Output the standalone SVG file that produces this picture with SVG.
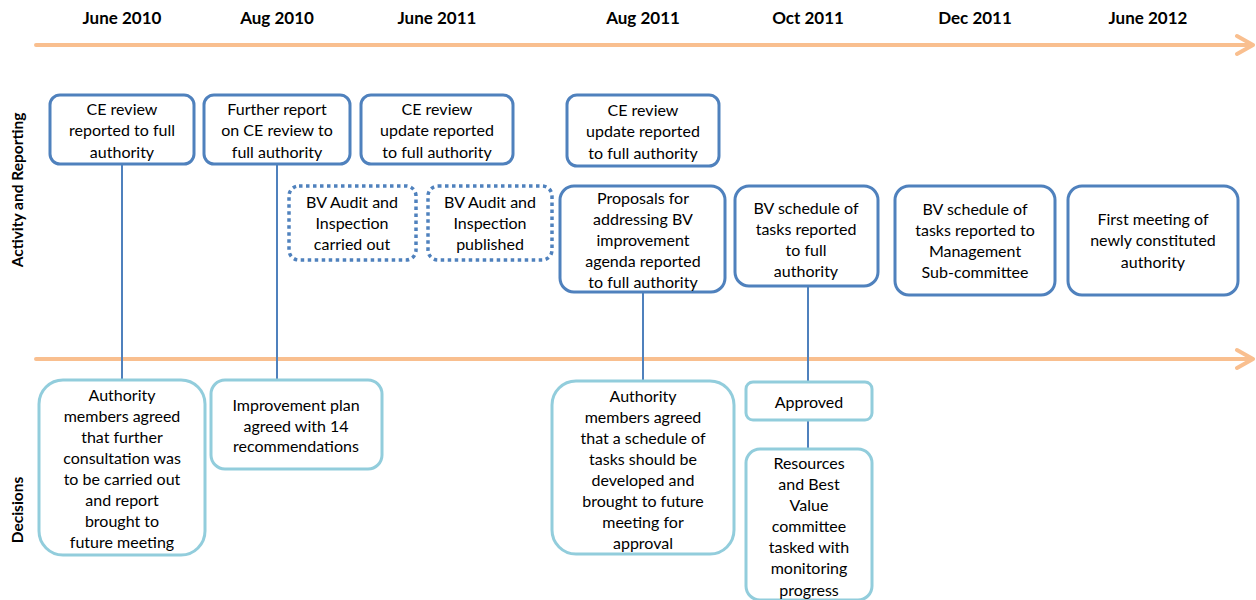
<svg xmlns="http://www.w3.org/2000/svg" width="1256" height="600" viewBox="0 0 1256 600">
<defs>
<style>
.axis{stroke:#F9BF8F;stroke-width:4;fill:none;stroke-linecap:round;stroke-linejoin:round}
.hd{font-family:Lato,"Liberation Sans",sans-serif;font-weight:bold;font-size:17px;fill:#000;text-anchor:middle}
.side{font-family:Lato,"Liberation Sans",sans-serif;font-weight:bold;font-size:15.5px;fill:#000;text-anchor:middle}
.t{font-family:Lato,"Liberation Sans",sans-serif;font-size:16px;fill:#000;text-anchor:middle}
.a{fill:#fff;stroke:#4F81BD;stroke-width:3}
.d{fill:#fff;stroke:#4F81BD;stroke-width:3.5;stroke-dasharray:3.5 3.5}
.b{fill:#fff;stroke:#92CDDC;stroke-width:3}
.c{stroke:#4F81BD;stroke-width:2;fill:none}
</style>
</defs>
<rect width="1256" height="600" fill="#fff"/>
<g id="timeline">
<path class="axis" d="M36 45H1253M1237 36L1253 45L1237 54"/>
<path class="axis" d="M36 359H1253M1237 350L1253 359L1237 368"/>
</g>
<g id="headers">
<text class="hd" x="122" y="24">June 2010</text>
<text class="hd" x="277" y="24">Aug 2010</text>
<text class="hd" x="437" y="24">June 2011</text>
<text class="hd" x="643" y="24">Aug 2011</text>
<text class="hd" x="808" y="24">Oct 2011</text>
<text class="hd" x="975" y="24">Dec 2011</text>
<text class="hd" x="1148" y="24">June 2012</text>
</g>
<g id="lanes">
<text class="side" transform="translate(23,190) rotate(-90)">Activity and Reporting</text>
<text class="side" transform="translate(23,510) rotate(-90)">Decisions</text>
</g>
<g id="connectors">
<line class="c" x1="122" y1="164" x2="122" y2="380"/>
<line class="c" x1="277" y1="164" x2="277" y2="380"/>
<line class="c" x1="643" y1="292" x2="643" y2="381"/>
<line class="c" x1="808" y1="286" x2="808" y2="382"/>
<line class="c" x1="808" y1="420" x2="808" y2="449"/>
</g>
<g id="n1"><rect class="a" x="50" y="95" width="144" height="69" rx="10"/>
<text class="t" x="122" y="115">CE review</text><text class="t" x="122" y="136">reported to full</text><text class="t" x="122" y="158">authority</text></g>
<g id="n2"><rect class="a" x="204" y="95" width="146" height="69" rx="10"/>
<text class="t" x="277" y="115">Further report</text><text class="t" x="277" y="136">on CE review to</text><text class="t" x="277" y="158">full authority</text></g>
<g id="n3"><rect class="a" x="361" y="95" width="152" height="69" rx="10"/>
<text class="t" x="437" y="115">CE review</text><text class="t" x="437" y="136">update reported</text><text class="t" x="437" y="158">to full authority</text></g>
<g id="n4"><rect class="a" x="567" y="95" width="152" height="71" rx="10"/>
<text class="t" x="643" y="116">CE review</text><text class="t" x="643" y="137">update reported</text><text class="t" x="643" y="159">to full authority</text></g>
<g id="n5"><rect class="d" x="289" y="186" width="127" height="74" rx="10"/>
<text class="t" x="352" y="208">BV Audit and</text><text class="t" x="352" y="229">Inspection</text><text class="t" x="352" y="250">carried out</text></g>
<g id="n6"><rect class="d" x="428" y="186" width="124" height="74" rx="10"/>
<text class="t" x="490" y="208">BV Audit and</text><text class="t" x="490" y="229">Inspection</text><text class="t" x="490" y="250">published</text></g>
<g id="n7"><rect class="a" x="560" y="186" width="165" height="106" rx="14"/>
<text class="t" x="643" y="204">Proposals for</text><text class="t" x="643" y="225">addressing BV</text><text class="t" x="643" y="246">improvement</text><text class="t" x="643" y="267">agenda reported</text><text class="t" x="643" y="288">to full authority</text></g>
<g id="n8"><rect class="a" x="735" y="186" width="143" height="100" rx="14"/>
<text class="t" x="806" y="214">BV schedule of</text><text class="t" x="806" y="235">tasks reported</text><text class="t" x="806" y="256">to full</text><text class="t" x="806" y="277">authority</text></g>
<g id="n9"><rect class="a" x="895" y="186" width="160" height="109" rx="14"/>
<text class="t" x="975" y="215">BV schedule of</text><text class="t" x="975" y="236">tasks reported to</text><text class="t" x="975" y="257">Management</text><text class="t" x="975" y="278">Sub-committee</text></g>
<g id="n10"><rect class="a" x="1068" y="186" width="170" height="109" rx="14"/>
<text class="t" x="1153" y="225">First meeting of</text><text class="t" x="1153" y="246">newly constituted</text><text class="t" x="1153" y="268">authority</text></g>
<g id="d1"><rect class="b" x="39" y="380" width="166" height="175" rx="24"/>
<text class="t" x="122" y="401">Authority</text><text class="t" x="122" y="422">members agreed</text><text class="t" x="122" y="443">that further</text><text class="t" x="122" y="464">consultation was</text><text class="t" x="122" y="485">to be carried out</text><text class="t" x="122" y="506">and report</text><text class="t" x="122" y="527">brought to</text><text class="t" x="122" y="548">future meeting</text></g>
<g id="d2"><rect class="b" x="211" y="380" width="171" height="89" rx="14"/>
<text class="t" x="296" y="411">Improvement plan</text><text class="t" x="296" y="432">agreed with 14</text><text class="t" x="296" y="452">recommendations</text></g>
<g id="d3"><rect class="b" x="552" y="381" width="182" height="173" rx="24"/>
<text class="t" x="643" y="402">Authority</text><text class="t" x="643" y="423">members agreed</text><text class="t" x="643" y="444">that a schedule of</text><text class="t" x="643" y="465">tasks should be</text><text class="t" x="643" y="486">developed and</text><text class="t" x="643" y="507">brought to future</text><text class="t" x="643" y="528">meeting for</text><text class="t" x="643" y="549">approval</text></g>
<g id="d4"><rect class="b" x="746" y="382" width="126" height="38" rx="7"/>
<text class="t" x="809" y="408">Approved</text></g>
<g id="d5"><rect class="b" x="746" y="449" width="126" height="151" rx="14"/>
<text class="t" x="809" y="469">Resources</text><text class="t" x="809" y="490">and Best</text><text class="t" x="809" y="511">Value</text><text class="t" x="809" y="532">committee</text><text class="t" x="809" y="553">tasked with</text><text class="t" x="809" y="574">monitoring</text><text class="t" x="809" y="596">progress</text></g>
</svg>
